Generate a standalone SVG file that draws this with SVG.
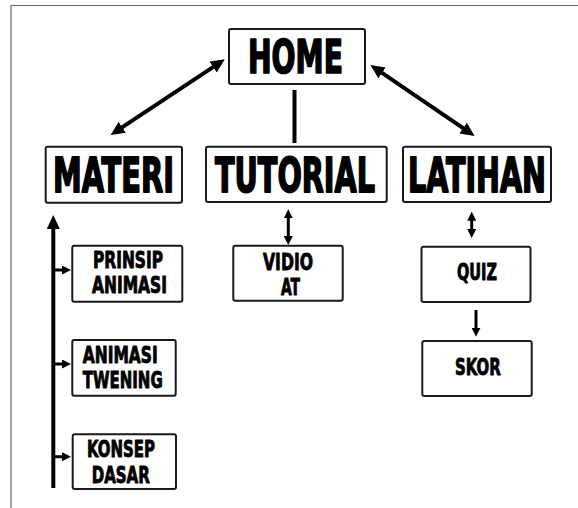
<svg xmlns="http://www.w3.org/2000/svg" width="578" height="508" viewBox="0 0 578 508">
<defs>
<style>
.box{fill:#fff;stroke:#1a1a1a;stroke-width:2}
.big{font-family:"Liberation Sans Narrow","DejaVu Sans Condensed","Liberation Sans",sans-serif;font-weight:bold;font-size:30px;fill:#000;stroke:#000;stroke-width:1.1;stroke-linejoin:round}
.sm{font-family:"Liberation Sans Narrow","DejaVu Sans Condensed","Liberation Sans",sans-serif;font-weight:bold;font-size:16px;fill:#000;stroke:#000;stroke-width:0.6;stroke-linejoin:round}
.ln{stroke:#000;fill:none}
.frame{stroke:#666;stroke-width:1.2;fill:none}
</style>
<marker id="hb" markerUnits="userSpaceOnUse" viewBox="0 0 14 13" markerWidth="14" markerHeight="13" refX="8" refY="6.5" orient="auto-start-reverse"><path d="M0,0 L14,6.5 L0,13 z" fill="#000"/></marker>
<marker id="hs" markerUnits="userSpaceOnUse" viewBox="0 0 9 9" markerWidth="9" markerHeight="9" refX="5" refY="4.5" orient="auto-start-reverse"><path d="M0,0 L9,4.5 L0,9 z" fill="#000"/></marker>
</defs>
<rect width="578" height="508" fill="#fff"/>
<path class="frame" d="M11,508 V5.5 H578"/>
<g id="connectors">
<line class="ln" x1="219.8" y1="62.6" x2="115.6" y2="131.7" stroke-width="4" marker-start="url(#hb)" marker-end="url(#hb)"/>
<line class="ln" x1="375.4" y1="68.4" x2="469.7" y2="132.6" stroke-width="4" marker-start="url(#hb)" marker-end="url(#hb)"/>
<line class="ln" x1="294.5" y1="90" x2="294.5" y2="143" stroke-width="4"/>
<line class="ln" x1="288.3" y1="213.3" x2="288.3" y2="241" stroke-width="3" marker-start="url(#hs)" marker-end="url(#hs)"/>
<line class="ln" x1="471.7" y1="215.7" x2="471.7" y2="234" stroke-width="3" marker-start="url(#hs)" marker-end="url(#hs)"/>
<line class="ln" x1="476" y1="310" x2="476" y2="332.7" stroke-width="3" marker-end="url(#hs)"/>
<line class="ln" x1="53.3" y1="488" x2="53.3" y2="221" stroke-width="4" marker-end="url(#hb)"/>
<line class="ln" x1="53" y1="270" x2="67" y2="270" stroke-width="3" marker-end="url(#hs)"/>
<line class="ln" x1="53" y1="364" x2="67" y2="364" stroke-width="3" marker-end="url(#hs)"/>
<line class="ln" x1="53" y1="456.7" x2="67" y2="456.7" stroke-width="3" marker-end="url(#hs)"/>
</g>
<g id="home">
<rect class="box" x="229" y="29" width="136" height="55" rx="2"/>
<text class="big" transform="translate(248,73) scale(1,1.55)" textLength="95" lengthAdjust="spacingAndGlyphs">HOME</text>
</g>
<g id="materi">
<rect class="box" x="45.7" y="146.7" width="136.3" height="56" rx="2"/>
<text class="big" transform="translate(53,192) scale(1,1.6)" textLength="121" lengthAdjust="spacingAndGlyphs">MATERI</text>
</g>
<g id="tutorial">
<rect class="box" x="206" y="146.7" width="180.7" height="55.3" rx="2"/>
<text class="big" transform="translate(215,192) scale(1,1.6)" textLength="160" lengthAdjust="spacingAndGlyphs">TUTORIAL</text>
</g>
<g id="latihan">
<rect class="box" x="403" y="146.7" width="148" height="55.3" rx="2"/>
<text class="big" transform="translate(408,192) scale(1,1.6)" textLength="138" lengthAdjust="spacingAndGlyphs">LATIHAN</text>
</g>
<g id="prinsip-animasi">
<rect class="box" x="72.3" y="245.7" width="110" height="56" rx="2"/>
<text class="sm" transform="translate(93,268) scale(1,1.4)" textLength="70" lengthAdjust="spacingAndGlyphs">PRINSIP</text>
<text class="sm" transform="translate(92,293) scale(1,1.4)" textLength="75" lengthAdjust="spacingAndGlyphs">ANIMASI</text>
</g>
<g id="animasi-tweening">
<rect class="box" x="72.3" y="340" width="103.4" height="55.7" rx="2"/>
<text class="sm" transform="translate(82.7,362.7) scale(1,1.4)" textLength="75" lengthAdjust="spacingAndGlyphs">ANIMASI</text>
<text class="sm" transform="translate(82.7,387.7) scale(1,1.4)" textLength="80" lengthAdjust="spacingAndGlyphs">TWENING</text>
</g>
<g id="konsep-dasar">
<rect class="box" x="72.7" y="434.3" width="103.3" height="54.7" rx="2"/>
<text class="sm" transform="translate(87,456.7) scale(1,1.4)" textLength="68" lengthAdjust="spacingAndGlyphs">KONSEP</text>
<text class="sm" transform="translate(91.7,482.7) scale(1,1.4)" textLength="58" lengthAdjust="spacingAndGlyphs">DASAR</text>
</g>
<g id="vidio-at">
<rect class="box" x="233.3" y="245.7" width="109.4" height="55" rx="2"/>
<text class="sm" transform="translate(263,270) scale(1,1.4)" textLength="50" lengthAdjust="spacingAndGlyphs">VIDIO</text>
<text class="sm" transform="translate(281,295) scale(1,1.4)" textLength="19" lengthAdjust="spacingAndGlyphs">AT</text>
</g>
<g id="quiz">
<rect class="box" x="421.5" y="246.7" width="109" height="55.3" rx="2"/>
<text class="sm" transform="translate(457,280) scale(1,1.4)" textLength="40" lengthAdjust="spacingAndGlyphs">QUIZ</text>
</g>
<g id="skor">
<rect class="box" x="422.3" y="341" width="109.4" height="55" rx="2"/>
<text class="sm" transform="translate(455,375) scale(1,1.4)" textLength="45.7" lengthAdjust="spacingAndGlyphs">SKOR</text>
</g>
</svg>
